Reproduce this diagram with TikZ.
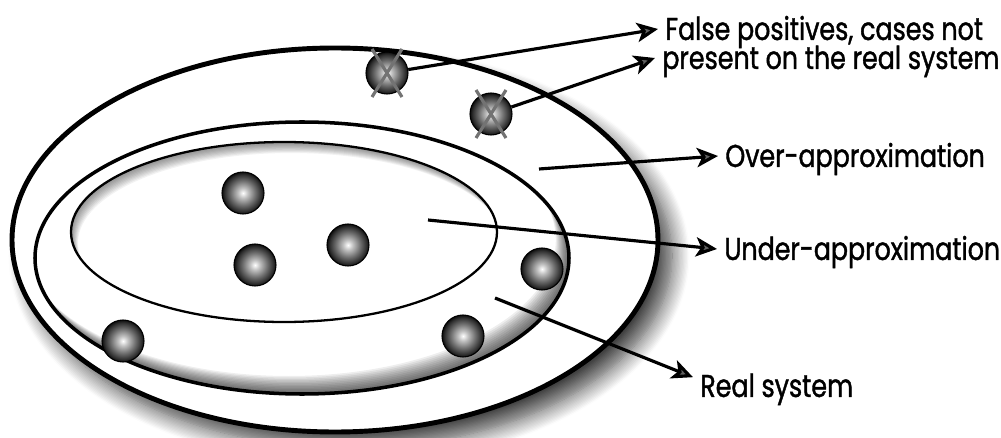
\documentclass[tikz,border=0pt]{standalone}
\usepackage{fontspec}
\usepackage{tikz}
\usetikzlibrary{arrows.meta,positioning,calc,shadows.blur}
\newfontfamily\lblfont{Poppins}[FakeStretch=0.8,FakeBold=1.2]

\pgfdeclareradialshading{sphere}{\pgfpoint{0bp}{0bp}}{color(0bp)=(white); color(6bp)=(black!25); color(15bp)=(black!58); color(22bp)=(black!82); color(25bp)=(black!95); color(50bp)=(black)}

\tikzset{
  ball/.style={circle,draw=black,line width=0.6pt,shading=sphere,minimum size=0.84cm,inner sep=0pt},
  cross/.style={draw=black!55,line width=1.8pt},
  lbl/.style={anchor=west,inner xsep=4pt,inner ysep=0pt,text height=12.5pt,text depth=0pt,font=\lblfont\fontsize{18}{20}\selectfont},
  pointer/.style={line width=1.8pt,-{Stealth[length=12pt,width=11pt,inset=3pt]}}
}

\begin{document}
\begin{tikzpicture}
\useasboundingbox (0,0) rectangle (20.02,8.74);

% sets
\path[fill=white,draw=black,line width=2.8pt,
  blur shadow={shadow xshift=8pt,shadow yshift=-9pt,shadow blur radius=10pt,shadow blur steps=14,shadow opacity=75}]
  (6.70,3.94) ellipse (6.46 and 3.84);
\begin{scope}
  \clip (6.04,3.58) ellipse (5.34 and 2.72);
  \foreach \i in {1,...,12}
    \fill[black,opacity=0.065,even odd rule] (-1,-1) rectangle (21,10)
      ({6.04-0.022*\i},{3.58+0.03*\i}) ellipse (5.34 and 2.72);
\end{scope}
\draw[line width=2pt] (6.04,3.58) ellipse (5.34 and 2.72);
\begin{scope}
  \clip (5.68,4.10) ellipse (4.26 and 1.80);
  \foreach \i in {1,...,10}
    \fill[black,opacity=0.05,even odd rule] (-1,-1) rectangle (21,10)
      ({5.68+0.014*\i},{4.10-0.022*\i}) ellipse (4.26 and 1.80);
\end{scope}
\draw[line width=1.3pt] (5.68,4.10) ellipse (4.26 and 1.80);

% cases
\node[ball] (f1) at (7.74,7.28) {};
\node[ball] (f2) at (9.82,6.46) {};
\node[ball] (b1) at (4.86,4.88) {};
\node[ball] (b2) at (5.10,3.44) {};
\node[ball] (b3) at (6.96,3.84) {};
\node[ball] (b4) at (10.84,3.36) {};
\node[ball] (b5) at (2.46,1.92) {};
\node[ball] (b6) at (9.26,2.02) {};
\path[cross] (f1) +(-0.3,0.48) -- +(0.3,-0.48) (f1) +(0.3,0.48) -- +(-0.3,-0.48);
\path[cross] (f2) +(-0.3,0.48) -- +(0.3,-0.48) (f2) +(0.3,0.48) -- +(-0.3,-0.48);

% labels
\node[lbl] (fpa) at (13.16,8.16) {False positives, cases not};
\node[lbl] (fpb) at (13.10,7.58) {present on the real system};
\node[lbl] (over) at (14.36,5.62) {Over-approximation};
\node[lbl] (under) at (14.34,3.76) {Under-approximation};
\node[lbl] (real) at (13.86,1.02) {Real system};

\coordinate (ov) at (10.78,5.36);
\coordinate (un) at (8.56,4.34);
\coordinate (rs) at (9.90,2.78);

\draw[pointer] (f1) -- (fpa.west);
\draw[pointer] (f2) -- (fpb.west);
\draw[pointer] (ov) -- (over.west);
\draw[pointer] (un) -- (under.west);
\draw[pointer] (rs) -- (real.174);
\end{tikzpicture}
\end{document}
